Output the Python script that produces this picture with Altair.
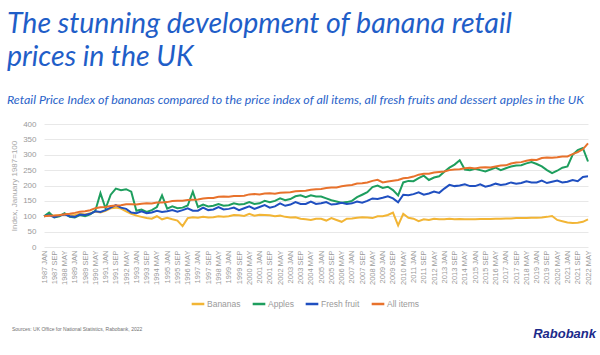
import altair as alt
import pandas as pd

# ---- data: samples every 4 months (Jan, May, Sep), Jan 1987 .. May 2022 ----
month_index = list(range(0, 425, 4))  # months since Jan 1987

bananas = [
    100, 104, 102,  104, 106, 103,  104, 108, 106,  110, 115, 112,
    118, 126, 128,  125, 116, 108,  102, 98, 94,    92, 100, 90,
    95, 90, 86,     68, 94, 97,     95, 98, 96,     97, 100, 98,
    100, 104, 103,  101, 108, 102,  105, 104, 103,  100, 102, 98,
    96, 97, 92,     90, 88, 92,     92, 86, 94,     88, 82, 92,
    93, 95, 97,     96, 94, 100,    100, 104, 112,  70, 108, 95,
    92, 84, 90,     88, 92, 90,     90, 92, 90,     91, 90, 90,
    90, 91, 91,     91, 92, 92,     93, 93, 94,     94, 94, 95,
    95, 96, 98,     101, 88, 84,    80, 78, 79,     82, 90,
]
apples = [
    100, 112, 96,   100, 110, 98,   96, 104, 100,   106, 118, 175,
    125, 170, 190,  185, 188, 180,  118, 122, 114,  120, 130, 168,
    125, 132, 126,  128, 135, 180,  130, 138, 132,  134, 140, 134,
    136, 142, 138,  140, 146, 140,  142, 150, 146,  150, 158, 152,
    156, 165, 168,  162, 168, 164,  164, 158, 152,  148, 144, 146,
    150, 162, 170,  178, 195, 200,  192, 196, 185,  168, 210, 215,
    214, 224, 232,  218, 226, 230,  245, 258, 268,  282, 252, 250,
    254, 250, 246,  252, 258, 250,  256, 262, 265,  266, 272, 276,
    270, 262, 250,  240, 248, 258,  262, 300, 315,  322, 278,
]
fresh_fruit = [
    100, 104, 97,   102, 106, 100,  98, 106, 104,   108, 116, 114,
    120, 128, 136,  128, 124, 112,  110, 116, 110,  112, 118, 114,
    116, 120, 115,  120, 126, 118,  118, 128, 120,  122, 130, 122,
    124, 128, 120,  126, 132, 124,  130, 136, 128,  132, 142, 134,
    138, 146, 140,  140, 148, 140,  142, 146, 138,  140, 144, 140,
    142, 148, 144,  150, 158, 156,  160, 165, 158,  145, 170, 168,
    172, 178, 170,  174, 180, 176,  190, 202, 198,  200, 204, 198,
    198, 204, 196,  200, 206, 202,  204, 210, 206,  208, 214, 210,
    210, 216, 208,  212, 216, 210,  212, 218, 214,  228, 230,
]
all_items = [
    100.0, 101.9, 102.4,  103.3, 106.2, 108.4,  111.0, 115.0, 116.6,
    119.5, 126.2, 129.3,  130.2, 133.5, 134.6,  135.6, 139.3, 139.4,
    137.9, 141.0, 141.9,  141.3, 144.7, 145.0,  146.0, 149.6, 150.6,
    150.2, 153.0, 153.8,  154.4, 157.7, 159.3,  159.5, 163.5, 164.4,
    163.4, 165.6, 166.2,  166.6, 171.1, 172.1,  171.1, 174.2, 174.6,
    173.3, 176.2, 177.6,  178.4, 181.5, 182.5,  183.1, 186.5, 188.1,
    188.9, 191.9, 193.1,  193.4, 197.7, 200.1,  201.6, 206.2, 207.3,
    209.8, 215.1, 218.4,  210.1, 212.8, 215.3,  217.9, 223.6, 225.3,
    229.0, 235.2, 237.9,  238.0, 242.4, 244.2,  245.8, 250.0, 251.9,
    252.6, 255.9, 257.6,  255.4, 258.5, 259.6,  258.8, 262.1, 264.9,
    265.5, 271.7, 274.6,  276.0, 280.7, 283.7,  283.0, 289.2, 291.0,
    290.6, 292.2, 294.3,  294.3, 302.0, 308.6,  317.7, 337.1,
]

series_names = ["Bananas", "Apples", "Fresh fruit", "All items"]
series_colors = ["#F2B535", "#1E9E5E", "#1F4FC0", "#E8722C"]
series_values = [bananas, apples, fresh_fruit, all_items]

tick_values = list(range(0, 425, 8))  # every 8 months: 1987 JAN, 1987 SEP, ...
month_labels = ["JAN", "FEB", "MAR", "APR", "MAY", "JUN",
                "JUL", "AUG", "SEP", "OCT", "NOV", "DEC"]

title_lines = ["The stunning development of banana retail", "prices in the UK"]
subtitle_text = ("Retail Price Index of bananas compared to the price index of all items, "
                 "all fresh fruits and dessert apples in the UK")
y_title = "Index, January 1987=100"
source_text = "Sources: UK Office for National Statistics, Rabobank, 2022"
brand_text = "Rabobank"

rows = []
for name, vals in zip(series_names, series_values):
    for m, v in zip(month_index, vals):
        rows.append({"month": m, "value": v, "series": name})
df = pd.DataFrame(rows)

label_expr = ("(1987 + floor(datum.value / 12)) + ' ' + "
              + "[" + ",".join("'%s'" % s for s in month_labels) + "][datum.value % 12]")

gray = "#9a9a9a"

lines = alt.Chart(df).mark_line(strokeWidth=2).encode(
    x=alt.X("month:Q",
            scale=alt.Scale(domain=[0, 424], nice=False, zero=False),
            axis=alt.Axis(values=tick_values, labelExpr=label_expr, labelAngle=-90,
                          labelFontSize=7.5, labelColor=gray, labelPadding=3,
                          labelOverlap=False, labelFlush=False, grid=False,
                          ticks=False, domain=False, title=None,
                          labelFont="Liberation Sans")),
    y=alt.Y("value:Q",
            scale=alt.Scale(domain=[0, 400], nice=False),
            axis=alt.Axis(values=list(range(0, 401, 50)), labelFontSize=8,
                          labelColor=gray, labelPadding=8, ticks=False, domain=False,
                          gridColor="#e8e8e8", gridWidth=1, title=y_title,
                          titleFontSize=8, titleColor="#a8a8a8", titleFontWeight="normal",
                          titlePadding=4, labelFont="Liberation Sans",
                          titleFont="Liberation Sans")),
    color=alt.Color("series:N",
                    scale=alt.Scale(domain=series_names, range=series_colors),
                    legend=alt.Legend(title=None, orient="none", direction="horizontal",
                                      legendX=146, legendY=172,
                                      symbolType="stroke", symbolSize=160,
                                      symbolStrokeWidth=2.5, labelFontSize=8.5,
                                      labelColor=gray, labelOffset=1,
                                      columnPadding=6, labelFont="Liberation Sans")),
    order=alt.Order("series_order:Q"),
).transform_calculate(
    series_order="indexof(%s, datum.series)" % str(series_names)
)

source = alt.Chart(pd.DataFrame({"t": [source_text]})).mark_text(
    align="left", baseline="middle", fontSize=5, color="#707070",
    font="Liberation Sans"
).encode(text="t:N", x=alt.value(-32), y=alt.value(205))

brand = alt.Chart(pd.DataFrame({"t": [brand_text]})).mark_text(
    align="right", baseline="middle", fontSize=13, fontStyle="italic",
    fontWeight="bold", color="#1B2A8A", font="Liberation Sans"
).encode(text="t:N", x=alt.value(552), y=alt.value(210))

chart = alt.layer(lines, source, brand).properties(
    width=544,
    height=123,
    autosize=alt.AutoSizeParams(type="none"),
    padding={"left": 44, "top": 124, "right": 12, "bottom": 108},
    title=alt.Title(
        text=title_lines,
        subtitle=subtitle_text,
        anchor="start",
        frame="group",
        dx=-37,
        offset=14,
        font="Lato",
        fontStyle="italic",
        fontWeight="normal",
        fontSize=28.5,
        lineHeight=33,
        color="#1F5EC8",
        subtitleFont="Lato",
        subtitleFontStyle="italic",
        subtitleFontSize=12.4,
        subtitleColor="#2A63C9",
        subtitlePadding=22,
    ),
).configure_view(stroke=None)

chart.save("out.html", embed_options={"renderer": "svg", "actions": False})
